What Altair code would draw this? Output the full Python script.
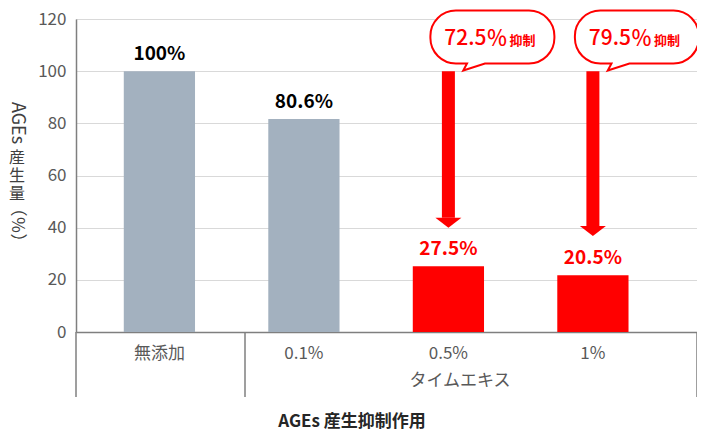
import altair as alt
import pandas as pd

# ---------------- data ----------------
categories = ["無添加", "0.1%", "0.5%", "1%"]
values = [100, 81.7, 25.2, 21.8]
value_labels = ["100%", "80.6%", "27.5%", "20.5%"]
groups = ["control", "control", "highlight", "highlight"]

callout_cats = ["0.5%", "1%"]
callout_nums = ["72.5％", "79.5％"]
callout_suffix = ["抑制", "抑制"]
arrow_top = [100, 100]
arrow_shaft_end = [43.8, 40.4]
arrow_head_mid = [41.9, 38.7]

y_ticks = [0, 20, 40, 60, 80, 100, 120]
group_label = "タイムエキス"
title_text = "AGEs 産生抑制作用"
ytitle_kanji = ["産", "生", "量"]

# ---------------- style ----------------
FONT = "Noto Sans CJK JP"
GRAY = "#a3b1bf"
RED = "#ff0000"
AXIS_COLOR = "#7f7f7f"
LABEL_COLOR = "#595959"

W, H = 621, 313

BUBBLE = ("M -0.59 -0.427 L 0.59 -0.427 C 0.816 -0.427 1 -0.243 1 -0.017 L 1 0.017 "
          "C 1 0.243 0.816 0.427 0.59 0.427 L -0.12 0.427 L -0.47 0.54 L -0.41 0.427 "
          "L -0.59 0.427 C -0.816 0.427 -1 0.243 -1 0.017 L -1 -0.017 "
          "C -1 -0.243 -0.816 -0.427 -0.59 -0.427 Z")
HEAD = "M -1 -0.385 L 1 -0.385 L 0 0.385 Z"

bars_df = pd.DataFrame({"cat": categories, "value": values,
                        "label": value_labels, "group": groups})
call_df = pd.DataFrame({"cat": callout_cats, "num": callout_nums,
                        "suffix": callout_suffix, "top": arrow_top,
                        "shaft_end": arrow_shaft_end, "head": arrow_head_mid})
one = pd.DataFrame({"a": [0]})

x_scale = alt.Scale(domain=categories, paddingInner=0.507, paddingOuter=0.4023, align=0.411)
y_scale = alt.Scale(domain=[0, 120], nice=False)


def X():
    return alt.X("cat:N", scale=x_scale,
                 axis=alt.Axis(title=None, labelAngle=0, ticks=False, labelPadding=13,
                               labelFontSize=17, labelColor=LABEL_COLOR, labelFont=FONT,
                               domainColor=AXIS_COLOR, domainWidth=1.5, grid=False))


def Y(field):
    return alt.Y(field, scale=y_scale,
                 axis=alt.Axis(title=None, values=y_ticks, ticks=False, labelPadding=10,
                               labelFontSize=17, labelColor=LABEL_COLOR, labelFont=FONT,
                               domainColor=AXIS_COLOR, domainWidth=1.5,
                               gridColor="#d9d9d9", gridWidth=1))


grp_scale = ["control", "highlight"]
color = alt.Color("group:N", scale=alt.Scale(domain=grp_scale, range=[GRAY, RED]), legend=None)

bars = alt.Chart(bars_df).mark_bar().encode(x=X(), y=Y("value:Q"), color=color)

labels = alt.Chart(bars_df).mark_text(
    baseline="alphabetic", dy=-11, fontSize=19, fontWeight="bold", font=FONT
).encode(x=X(), y=Y("value:Q"), text="label:N",
         fill=alt.Fill("group:N", scale=alt.Scale(domain=grp_scale, range=["#000000", RED]),
                       legend=None))

shaft = alt.Chart(call_df).mark_rule(color=RED, strokeWidth=13, strokeCap="butt").encode(
    x=X(), y=Y("top:Q"), y2="shaft_end:Q")
head = alt.Chart(call_df).mark_point(
    shape=HEAD, size=676, filled=True, fill=RED, strokeWidth=0, opacity=1
).encode(x=X(), y=Y("head:Q"))

bubble = alt.Chart(call_df).mark_point(
    shape=BUBBLE, size=15376, filled=True, fill="white", stroke=RED, strokeWidth=2,
    opacity=1, fillOpacity=1, strokeOpacity=1, xOffset=44
).encode(x=X(), y=alt.value(18))

bubble_num = alt.Chart(call_df).mark_text(
    align="right", baseline="alphabetic", fontSize=21, font=FONT, color=RED,
    fontWeight=500, xOffset=59
).encode(x=X(), y=alt.value(25.5), text="num:N")
bubble_suf = alt.Chart(call_df).mark_text(
    align="left", baseline="alphabetic", fontSize=13, font=FONT, color=RED,
    fontWeight="bold", xOffset=61
).encode(x=X(), y=alt.value(25.5), text="suffix:N")


def vrule(xpix):
    return alt.Chart(one).mark_rule(color=AXIS_COLOR, strokeWidth=1.5).encode(
        x=alt.value(xpix), y=alt.value(H), y2=alt.value(H + 65))


rules = vrule(0) + vrule(169) + vrule(W)

group_text = alt.Chart(one).mark_text(
    fontSize=17, font=FONT, color=LABEL_COLOR, baseline="middle"
).encode(x=alt.value(384), y=alt.value(362), text=alt.value(group_label))

title = alt.Chart(one).mark_text(
    fontSize=17, font=FONT, color="#262626", fontWeight="bold", baseline="middle"
).encode(x=alt.value(276), y=alt.value(403), text=alt.value(title_text))

# vertical y-axis title: Latin parts rotated, kanji upright (stacked)
TX = -59
ytitle_parts = [
    alt.Chart(one).mark_text(
        fontSize=18, font=FONT, color="#404040", angle=90, baseline="middle", align="center"
    ).encode(x=alt.value(TX), y=alt.value(104), text=alt.value("AGEs")),
    alt.Chart(one).mark_text(
        fontSize=16, font=FONT, color="#404040", baseline="top", align="center", lineHeight=18
    ).encode(x=alt.value(TX), y=alt.value(131), text=alt.value(ytitle_kanji)),
    alt.Chart(one).mark_text(
        fontSize=17, font=FONT, color="#404040", angle=90, baseline="middle", align="center"
    ).encode(x=alt.value(TX), y=alt.value(206), text=alt.value("（％）")),
]

chart = alt.layer(
    bars, labels, shaft, head, bubble, bubble_num, bubble_suf, rules, group_text, title,
    *ytitle_parts
).properties(
    width=W, height=H, autosize="none",
    padding={"left": 68, "top": 11, "right": 0, "bottom": 100}
).configure_view(stroke=None).configure(font=FONT)

chart.save("out.html", embed_options={"renderer": "svg", "actions": False})
